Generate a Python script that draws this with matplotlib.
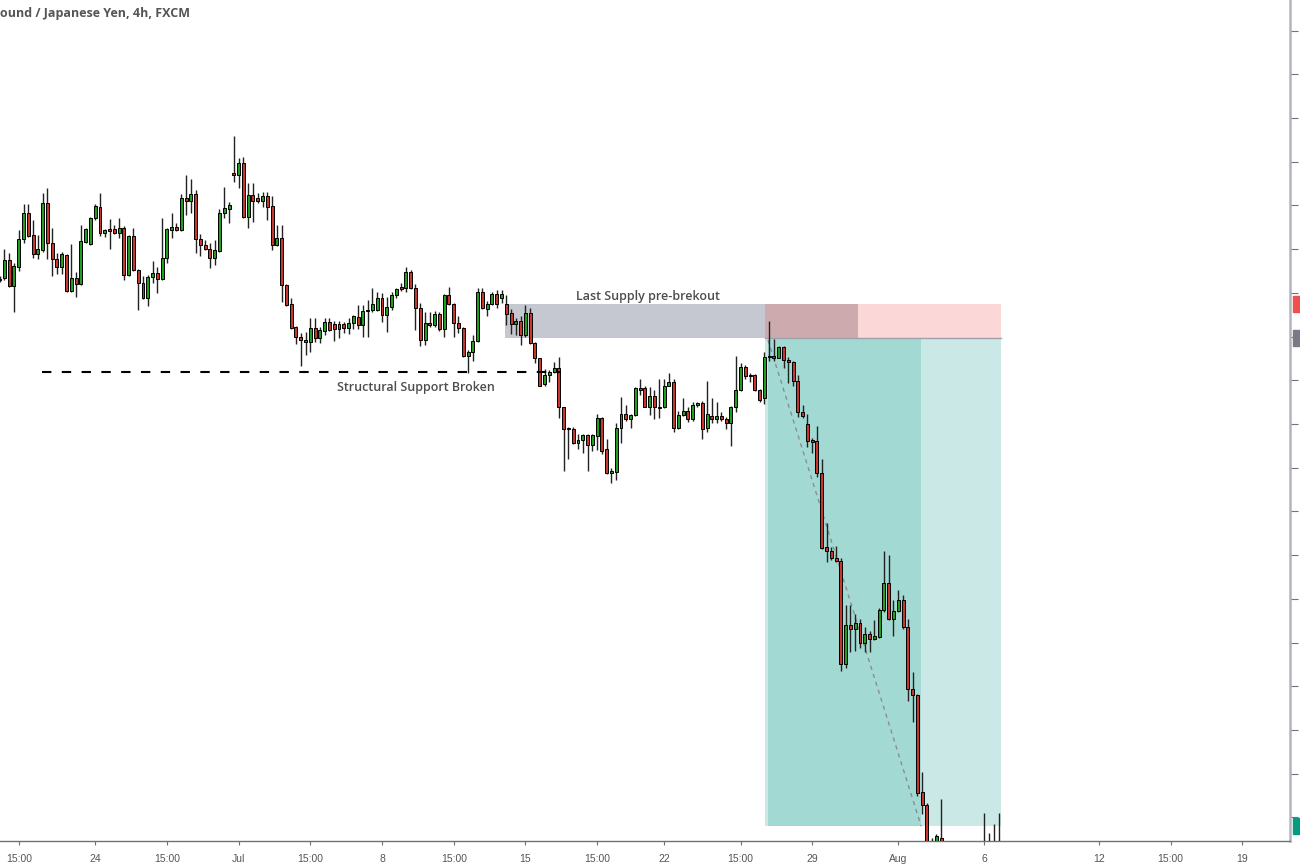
import numpy as np
import matplotlib.pyplot as plt
import matplotlib.transforms as mtransforms
from matplotlib.patches import Rectangle

# GBP/JPY 4h candles
opens = [136.16, 136.17, 136.38, 136.08, 136.30, 136.62, 136.91, 136.66, 136.44, 136.49,
         137.03, 136.57, 136.39, 136.30, 136.43, 136.02, 136.17, 136.10, 136.58, 136.56,
         136.86, 136.98, 136.68, 136.73, 136.73, 136.68, 136.74, 136.20, 136.65, 136.26,
         136.11, 135.94, 136.18, 136.23, 136.16, 136.40, 136.72, 136.75, 136.72, 137.08,
         137.05, 137.13, 136.62, 136.55, 136.50, 136.40, 136.48, 136.91, 136.96, 137.37,
         137.35, 137.49, 136.87, 137.12, 137.08, 137.05, 137.11, 136.99, 136.55, 136.63,
         136.09, 135.87, 135.61, 135.49, 135.46, 135.44, 135.60, 135.48, 135.56, 135.67,
         135.64, 135.59, 135.64, 135.60, 135.65, 135.72, 135.63, 135.79, 135.80, 135.80,
         135.94, 135.75, 135.84, 135.97, 136.07, 136.05, 136.24, 136.05, 135.83, 135.46,
         135.65, 135.63, 135.76, 135.59, 135.97, 135.87, 135.65, 135.60, 135.28, 135.32,
         135.45, 136.01, 135.81, 135.87, 135.99, 135.94, 135.87, 135.77, 135.64, 135.68,
         135.52, 135.77, 135.43, 135.25, 134.96, 135.06, 135.09, 135.14, 134.69, 134.45,
         134.44, 134.28, 134.32, 134.37, 134.26, 134.36, 134.57, 134.21, 133.94, 133.95,
         134.45, 134.62, 134.56, 134.60, 134.91, 134.91, 134.70, 134.82, 134.69, 134.69,
         134.94, 134.98, 134.45, 134.60, 134.65, 134.56, 134.72, 134.74, 134.45, 134.59,
         134.56, 134.59, 134.56, 134.51, 134.70, 134.89, 135.15, 135.06, 135.06, 134.89,
         134.80, 135.28, 135.28, 135.26, 135.38, 135.23, 135.21, 134.99, 134.64, 134.50,
         134.32, 134.30, 133.94, 133.09, 133.05, 132.97, 132.93, 131.75, 132.20, 132.16,
         132.22, 131.99, 132.10, 132.04, 132.06, 132.37, 132.68, 132.27, 132.36, 132.49,
         132.18, 131.47, 131.40, 130.29, 130.14, 129.68, 129.65, 129.77, 129.62, 129.30,
         129.05, 129.20, 129.35, 129.15, 129.00, 128.80, 128.95, 129.25, 129.15, 129.40]
highs = [136.19, 136.50, 136.46, 136.34, 136.72, 137.02, 137.02, 136.83, 136.66, 137.14,
         137.20, 136.74, 136.46, 136.47, 136.44, 136.56, 136.24, 136.78, 136.74, 136.87,
         137.02, 137.14, 136.73, 136.84, 136.78, 136.86, 136.76, 136.66, 136.74, 136.27,
         136.19, 136.20, 136.36, 136.30, 136.86, 136.74, 136.91, 136.80, 137.13, 137.35,
         137.30, 137.18, 136.67, 136.60, 136.57, 136.60, 136.96, 137.21, 137.04, 137.80,
         137.54, 137.55, 137.26, 137.26, 137.14, 137.15, 137.15, 137.11, 136.78, 136.78,
         136.10, 135.94, 135.62, 135.54, 135.55, 135.71, 135.71, 135.61, 135.71, 135.71,
         135.68, 135.68, 135.67, 135.71, 135.75, 135.86, 135.86, 135.92, 136.05, 136.01,
         136.00, 135.95, 136.01, 136.05, 136.11, 136.30, 136.26, 136.10, 135.88, 135.78,
         135.78, 135.79, 135.78, 135.99, 136.07, 135.88, 135.73, 135.61, 135.35, 135.52,
         136.05, 136.05, 135.91, 136.01, 136.03, 136.03, 135.97, 135.81, 135.71, 135.73,
         135.86, 135.83, 135.44, 135.25, 135.13, 135.12, 135.21, 135.27, 134.69, 134.47,
         134.46, 134.38, 134.39, 134.39, 134.39, 134.62, 134.58, 134.33, 134.00, 134.51,
         134.81, 134.72, 134.61, 134.92, 135.01, 134.94, 134.92, 134.89, 135.02, 135.02,
         135.08, 135.01, 134.65, 134.80, 134.69, 134.75, 134.75, 134.76, 134.99, 134.80,
         134.75, 134.64, 134.58, 134.71, 135.28, 135.20, 135.17, 135.08, 135.07, 134.90,
         135.32, 135.68, 135.47, 135.39, 135.39, 135.27, 135.22, 135.06, 134.72, 134.61,
         134.34, 134.48, 134.10, 133.37, 133.09, 133.10, 132.97, 132.43, 132.43, 132.33,
         132.27, 132.18, 132.13, 132.26, 132.39, 133.05, 133.00, 132.49, 132.60, 132.54,
         132.27, 131.66, 131.41, 130.52, 130.16, 129.76, 129.81, 130.21, 129.65, 129.45,
         129.30, 129.50, 129.55, 129.40, 129.25, 129.10, 130.05, 129.82, 129.92, 130.05]
lows = [136.12, 136.15, 136.07, 135.78, 136.25, 136.57, 136.64, 136.40, 136.39, 136.47,
        136.39, 136.19, 136.22, 136.22, 136.01, 136.01, 135.95, 136.09, 136.57, 136.55,
        136.83, 136.65, 136.64, 136.50, 136.67, 136.63, 136.15, 136.19, 136.25, 135.80,
        135.93, 135.85, 136.11, 136.00, 136.15, 136.34, 136.63, 136.71, 136.71, 136.89,
        136.91, 136.46, 136.42, 136.49, 136.28, 136.32, 136.47, 136.86, 136.80, 137.27,
        137.20, 136.86, 136.74, 136.81, 137.03, 136.98, 136.83, 136.49, 136.54, 135.89,
        135.85, 135.59, 135.41, 135.16, 135.29, 135.32, 135.44, 135.43, 135.52, 135.56,
        135.45, 135.48, 135.54, 135.53, 135.59, 135.59, 135.49, 135.49, 135.78, 135.79,
        135.67, 135.55, 135.80, 135.94, 136.02, 136.01, 136.04, 135.57, 135.39, 135.40,
        135.61, 135.61, 135.56, 135.49, 135.86, 135.49, 135.54, 135.27, 135.08, 135.22,
        135.44, 135.81, 135.73, 135.86, 135.83, 135.88, 135.63, 135.53, 135.52, 135.40,
        135.49, 135.41, 135.20, 134.93, 134.94, 134.98, 135.08, 134.57, 133.96, 134.10,
        134.27, 134.21, 134.17, 133.96, 134.19, 134.20, 134.16, 133.93, 133.83, 133.86,
        134.28, 134.54, 134.45, 134.59, 134.83, 134.69, 134.60, 134.56, 134.57, 134.68,
        134.93, 134.41, 134.44, 134.59, 134.52, 134.54, 134.70, 134.33, 134.41, 134.51,
        134.51, 134.53, 134.44, 134.25, 134.64, 134.88, 135.01, 134.98, 134.88, 134.75,
        134.73, 135.22, 135.22, 135.25, 135.14, 134.97, 134.94, 134.58, 134.57, 134.24,
        134.17, 133.89, 133.07, 132.92, 132.95, 132.92, 131.68, 131.71, 131.89, 131.90,
        131.94, 131.89, 131.89, 132.03, 132.05, 132.35, 132.26, 132.08, 132.35, 132.16,
        131.33, 131.09, 130.24, 130.04, 129.51, 129.57, 129.60, 129.57, 129.20, 128.95,
        128.85, 129.00, 129.10, 128.90, 128.70, 128.60, 128.80, 129.00, 128.95, 129.20]
closes = [136.15, 136.38, 136.08, 136.31, 136.62, 136.91, 136.65, 136.44, 136.50, 137.03,
          136.57, 136.39, 136.30, 136.44, 136.02, 136.17, 136.10, 136.59, 136.73, 136.86,
          136.99, 136.68, 136.72, 136.71, 136.68, 136.74, 136.20, 136.65, 136.26, 136.11,
          135.94, 136.18, 136.23, 136.16, 136.40, 136.73, 136.75, 136.72, 137.08, 137.05,
          137.13, 136.62, 136.55, 136.50, 136.40, 136.49, 136.91, 136.97, 137.00, 137.35,
          137.49, 136.87, 137.12, 137.05, 137.05, 137.11, 136.98, 136.55, 136.63, 136.09,
          135.86, 135.60, 135.49, 135.46, 135.44, 135.60, 135.48, 135.57, 135.67, 135.57,
          135.59, 135.64, 135.60, 135.65, 135.73, 135.63, 135.79, 135.80, 135.87, 135.94,
          135.75, 135.84, 135.97, 136.04, 136.04, 136.24, 136.05, 135.83, 135.46, 135.65,
          135.63, 135.76, 135.59, 135.97, 135.87, 135.65, 135.60, 135.28, 135.32, 135.45,
          136.01, 135.83, 135.87, 135.99, 135.87, 135.99, 135.76, 135.64, 135.68, 135.52,
          135.77, 135.43, 135.25, 134.94, 135.06, 135.09, 135.14, 134.69, 134.44, 134.44,
          134.28, 134.32, 134.37, 134.26, 134.37, 134.57, 134.19, 133.94, 133.96, 134.45,
          134.62, 134.56, 134.60, 134.91, 134.89, 134.70, 134.82, 134.69, 134.68, 134.94,
          134.98, 134.45, 134.60, 134.65, 134.56, 134.72, 134.74, 134.44, 134.61, 134.56,
          134.59, 134.56, 134.51, 134.70, 134.89, 135.15, 135.05, 135.05, 134.89, 134.78,
          135.27, 135.27, 135.26, 135.38, 135.23, 135.21, 134.99, 134.64, 134.59, 134.30,
          134.29, 133.94, 133.08, 133.05, 132.97, 132.93, 131.75, 132.20, 132.16, 132.22,
          131.99, 132.10, 132.04, 132.07, 132.37, 132.68, 132.27, 132.36, 132.49, 132.18,
          131.47, 131.40, 130.28, 130.14, 129.62, 129.65, 129.79, 129.62, 129.30, 129.05,
          129.20, 129.35, 129.15, 129.00, 128.80, 128.95, 129.25, 129.15, 129.40, 129.50]

tick_pos = [4, 20, 35, 50, 65, 80, 95, 110, 125, 139, 155, 170, 188, 206, 230, 245, 260]
tick_labels = ['15:00', '24', '15:00', 'Jul', '15:00', '8', '15:00', '15', '15:00',
               '22', '15:00', '29', 'Aug', '6', '12', '15:00', '19']

# drawings (bar index / price)
supply_top, supply_bottom = 135.87, 135.48
supply_start, supply_end = 105.7, 179.6
target = 129.90
trade_start, trade_fill, trade_hit, trade_end = 160.1, 160.75, 192.8, 209.5
support_level, support_from, support_to = 135.10, 8.9, 117.2

o = np.array(opens)
h = np.array(highs)
l = np.array(lows)
c = np.array(closes)
x = np.arange(len(c))

fig = plt.figure(figsize=(13, 8.67), dpi=100)
ax = fig.add_axes([0, 26 / 867, 1290 / 1300, 841 / 867])

# zones
ax.add_patch(Rectangle((supply_start, supply_bottom), trade_start - supply_start,
                       supply_top - supply_bottom, color='#c5c8d0', lw=0, zorder=1))
ax.add_patch(Rectangle((trade_start, supply_bottom), supply_end - trade_start,
                       supply_top - supply_bottom, color='#cdaaad', lw=0, zorder=1))
ax.add_patch(Rectangle((supply_end, supply_bottom), trade_end - supply_end,
                       supply_top - supply_bottom, color='#fcd7d7', lw=0, zorder=1))
ax.add_patch(Rectangle((trade_start, target), trade_end - trade_start,
                       supply_bottom - target, color='#cae9e6', lw=0, zorder=1))
ax.add_patch(Rectangle((trade_fill, target), trade_hit - trade_fill,
                       supply_bottom - target, color='#a3d9d3', lw=0, zorder=1))
ax.plot([trade_start, trade_end], [supply_bottom, supply_bottom], color='#9ea1a9', lw=1, zorder=2)
ax.plot([trade_fill, trade_hit], [135.46, target], color='#8a8d94', lw=1,
        dashes=(3, 3), zorder=2)

ax.plot([support_from, support_to], [support_level, support_level], color='black', lw=1.5,
        dashes=(4.5, 5), zorder=5)

# candles
up = c >= o
colors = np.where(up, '#1f9e1f', '#c8372d')
ax.vlines(x, l, h, color='#222222', lw=1, zorder=3)
body_low = np.minimum(o, c)
body_h = np.maximum(np.abs(c - o), 0.012)
ax.bar(x, body_h, bottom=body_low, width=0.62, color=colors, edgecolor='black',
       linewidth=0.7, zorder=4)

ax.text(87.1, 134.92, 'Structural Support Broken', ha='center', va='center',
        fontsize=9, color='#4d4d4d', family='Open Sans', fontweight='semibold')
ax.text(135.6, 135.96, 'Last Supply pre-brekout', ha='center', va='center',
        fontsize=9, color='#4d4d4d', family='Open Sans', fontweight='semibold')

ax.set_xlim(0.08, 269.96)
ax.set_ylim(129.73, 139.35)

for s in ['top', 'left']:
    ax.spines[s].set_visible(False)
ax.spines['right'].set_color('#b2b5be')
ax.spines['right'].set_linewidth(1.8)
ax.spines['bottom'].set_color('#6f727a')
ax.spines['bottom'].set_linewidth(1)

ax.yaxis.tick_right()
ax.set_yticks(np.arange(130, 139.5, 0.5))
ax.set_yticklabels([])
ax.tick_params(axis='y', length=6, width=0.8, color='#6f727a')
ax.set_xticks(tick_pos)
ax.set_xticklabels(tick_labels, fontsize=7.5, color='#555555', family='Liberation Sans')
ax.tick_params(axis='x', length=3, width=0.8, color='#6f727a', pad=6)

# price tags on the scale
tr = mtransforms.blended_transform_factory(ax.transAxes, ax.transData)
for price, col in [(supply_top, '#ef4f4f'), (supply_bottom, '#787b86'), (target, '#089981')]:
    ax.add_patch(Rectangle((1.0025, price - 0.09), 0.01, 0.18, transform=tr,
                           color=col, clip_on=False, zorder=6))

fig.text(0.0, 1 - 14 / 867, 'ound / Japanese Yen, 4h, FXCM', fontsize=9, fontweight='bold',
         color='#555555', family='Open Sans', va='center', ha='left')

fig.savefig('out.png', dpi=100)
